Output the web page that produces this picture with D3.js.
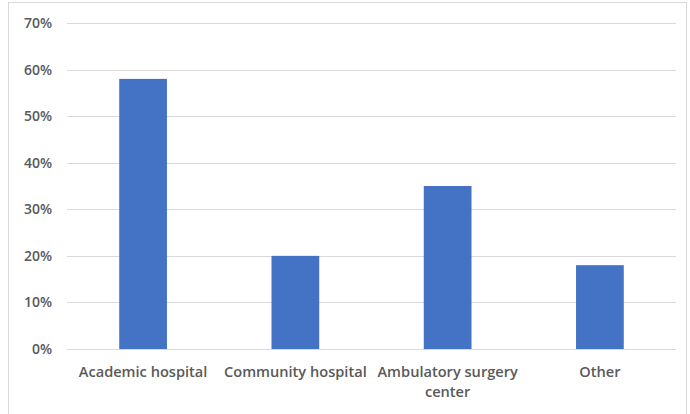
<!DOCTYPE html>
<html><head><meta charset="utf-8">
<script src="https://cdn.jsdelivr.net/npm/d3@7"></script>
<style>body{margin:0;background:#fff;} svg{display:block;}</style>
</head><body>
<svg id="c" width="690" height="414"></svg>
<script>
const categories = ["Academic hospital", "Community hospital", "Ambulatory surgery center", "Other"];
const values = [0.58, 0.20, 0.35, 0.18];
const yTicks = [0, 0.1, 0.2, 0.3, 0.4, 0.5, 0.6, 0.7];
const labelLines = [["Academic hospital"], ["Community hospital"], ["Ambulatory surgery", "center"], ["Other"]];

const svg = d3.select("#c");
const font = "'Open Sans', 'Noto Sans', sans-serif";
svg.append("rect").attr("x", 8.5).attr("y", 2.5).attr("width", 678).attr("height", 420)
  .attr("fill", "#fff").attr("stroke", "#d9d9d9").attr("stroke-width", 1);

const x = d3.scaleBand().domain(categories).range([67, 676]).paddingInner(0.6865).paddingOuter(0.343);
const y = d3.scaleLinear().domain([0, 0.7]).range([349, 23]);

const g = svg.append("g");
g.selectAll("line.grid").data(yTicks).join("line")
  .attr("x1", 67).attr("x2", 676)
  .attr("y1", d => Math.round(y(d)) + 0.5).attr("y2", d => Math.round(y(d)) + 0.5)
  .attr("stroke", "#d9d9d9").attr("stroke-width", 1);

const yAxis = d3.axisLeft(y).tickValues(yTicks).tickFormat(d3.format(".0%")).tickSize(0).tickPadding(0);
const ya = svg.append("g").attr("transform", "translate(52,0)").call(yAxis);
ya.select(".domain").remove();
ya.selectAll("text").attr("font-family", font).attr("font-size", 14).attr("font-weight", 600).attr("fill", "#595959");

g.selectAll("rect.bar").data(values).join("rect")
  .attr("x", (d, i) => x(categories[i])).attr("width", x.bandwidth())
  .attr("y", d => y(d)).attr("height", d => y(0) - y(d))
  .attr("fill", "#4472c4");

const xl = svg.append("g");
categories.forEach((c, i) => {
  const t = xl.append("text").attr("x", x(c) + x.bandwidth() / 2).attr("y", 377)
    .attr("text-anchor", "middle").attr("font-family", font).attr("font-size", 14.6)
    .attr("font-weight", 600).attr("fill", "#595959");
  labelLines[i].forEach((l, j) => {
    t.append("tspan").attr("x", x(c) + x.bandwidth() / 2).attr("dy", j ? 20 : 0).text(l);
  });
});
</script>
</body></html>
